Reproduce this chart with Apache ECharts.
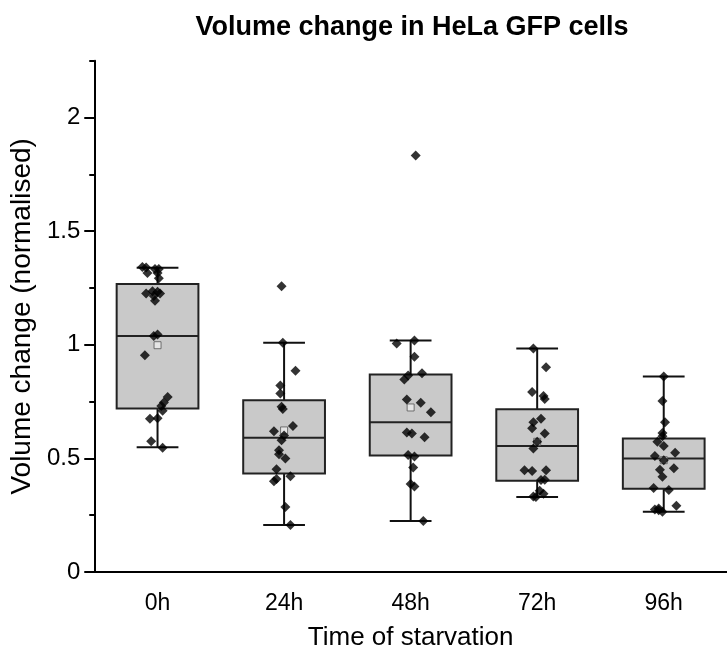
<!DOCTYPE html>
<html>
<head>
<meta charset="utf-8">
<script src="https://cdn.jsdelivr.net/npm/echarts@6/dist/echarts.min.js"></script>
<style>
html,body{margin:0;padding:0;background:#fff;}
#chart{width:727px;height:656px;}
</style>
</head>
<body>
<div id="chart"></div>
<script>
const categories = ['0h', '24h', '48h', '72h', '96h'];
const yTicks = [0, 0.5, 1, 1.5, 2];
const yMinorTicks = [0.25, 0.75, 1.25, 1.75, 2.25];

// box statistics: whisker low, Q1, median, Q3, whisker high
const boxLow    = [0.549, 0.207, 0.224, 0.330, 0.265];
const boxQ1     = [0.720, 0.434, 0.513, 0.402, 0.366];
const boxMedian = [1.038, 0.591, 0.659, 0.554, 0.500];
const boxQ3     = [1.267, 0.756, 0.869, 0.716, 0.587];
const boxHigh   = [1.339, 1.009, 1.019, 0.983, 0.860];
const means     = [0.998, 0.623, 0.724, 0.573, 0.492];

// individual cells (value) and their horizontal jitter (in category units)
const points0h  = [1.342,1.340,1.333,1.333,1.316,1.316,1.293,1.236,1.233,1.226,1.226,1.215,1.194,1.045,1.038,0.954,0.770,0.746,0.731,0.710,0.677,0.674,0.575,0.547];
const jitter0h  = [-0.12,-0.09,-0.02,0.01,-0.08,0.00,0.01,-0.04,0.00,-0.09,0.02,-0.03,-0.02,0.00,-0.03,-0.10,0.08,0.05,0.03,0.04,0.00,-0.06,-0.05,0.04];
const points24h = [1.257,1.009,0.886,0.821,0.785,0.727,0.717,0.643,0.619,0.601,0.580,0.536,0.518,0.499,0.452,0.421,0.409,0.399,0.286,0.207];
const jitter24h = [-0.02,-0.01,0.09,-0.03,-0.03,-0.02,-0.01,0.07,-0.08,0.00,-0.02,-0.04,-0.04,0.01,-0.06,0.05,-0.06,-0.08,0.01,0.05];
const points48h = [1.833,1.019,1.006,0.947,0.875,0.865,0.847,0.759,0.745,0.703,0.614,0.609,0.593,0.515,0.508,0.460,0.387,0.376,0.224];
const jitter48h = [0.04,0.03,-0.11,0.03,0.09,-0.02,-0.05,-0.03,0.08,0.16,-0.03,0.01,0.11,-0.02,0.03,0.02,0.00,0.03,0.10];
const points72h = [0.983,0.901,0.792,0.775,0.761,0.674,0.659,0.633,0.609,0.573,0.544,0.448,0.445,0.448,0.405,0.406,0.358,0.344,0.332,0.330];
const jitter72h = [-0.03,0.07,-0.04,0.05,0.06,0.03,-0.03,-0.04,0.06,0.00,-0.03,-0.10,-0.04,0.07,0.03,0.06,0.02,0.05,-0.03,-0.01];
const points96h = [0.860,0.753,0.659,0.612,0.597,0.573,0.554,0.525,0.510,0.492,0.457,0.450,0.419,0.370,0.361,0.291,0.279,0.275,0.272,0.265];
const jitter96h = [0.00,-0.01,0.01,-0.01,-0.01,-0.05,0.00,0.09,-0.07,0.00,0.08,-0.03,-0.01,-0.08,0.04,0.10,-0.04,-0.07,-0.04,-0.01];

const groupPoints = [points0h, points24h, points48h, points72h, points96h];
const groupJitter = [jitter0h, jitter24h, jitter48h, jitter72h, jitter96h];

const FONT = "'Liberation Sans', Arial, sans-serif";

const boxData = categories.map((c, i) => [i, boxLow[i], boxQ1[i], boxMedian[i], boxQ3[i], boxHigh[i]]);
const meanData = means.map((m, i) => [i, m]);
const scatterData = [];
groupPoints.forEach((arr, i) => arr.forEach((v, j) => scatterData.push([i + groupJitter[i][j], v])));

const chart = echarts.init(document.getElementById('chart'), null, {renderer: 'canvas'});
chart.setOption({
  animation: false,
  backgroundColor: '#fff',
  title: {
    text: 'Volume change in HeLa GFP cells',
    left: 412, top: 14, padding: 0, textAlign: 'center',
    textStyle: {fontFamily: FONT, fontSize: 27, fontWeight: 'bold', color: '#000'}
  },
  grid: {left: 90.7, right: -6.7, top: 60.7, bottom: 76.7, containLabel: false},
  xAxis: [{
    type: 'category', data: categories, boundaryGap: true,
    axisLine: {onZero: false, lineStyle: {color: '#000', width: 2}},
    axisTick: {alignWithLabel: true, length: 10, lineStyle: {color: '#000', width: 2}},
    axisLabel: {fontFamily: FONT, fontSize: 23, color: '#000', margin: 20},
    splitLine: {show: false},
    name: 'Time of starvation', nameLocation: 'middle', nameGap: 53,
    nameTextStyle: {fontFamily: FONT, fontSize: 26, color: '#000'}
  }, {
    type: 'value', min: -0.5, max: 4.5, show: false
  }],
  yAxis: [{
    type: 'value', min: 0, max: 2.25,
    axisLine: {show: true, onZero: false, lineStyle: {color: '#000', width: 2}},
    axisTick: {show: true, length: 10, customValues: yTicks, lineStyle: {color: '#000', width: 2}},
    axisLabel: {customValues: yTicks, fontFamily: FONT, fontSize: 24, color: '#000', margin: 14},
    splitLine: {show: false},
    name: 'Volume change (normalised)', nameLocation: 'middle', nameGap: 41,
    nameTextStyle: {fontFamily: FONT, fontSize: 28, color: '#000'}
  }, {
    type: 'value', min: 0, max: 2.25, position: 'left',
    axisLine: {show: false, onZero: false},
    axisTick: {show: true, length: 5, customValues: yMinorTicks, lineStyle: {color: '#000', width: 2}},
    axisLabel: {show: false},
    splitLine: {show: false}
  }],
  series: [{
    type: 'custom', xAxisIndex: 1, yAxisIndex: 0, z: 2,
    data: boxData,
    encode: {x: 0, y: [1, 2, 3, 4, 5]},
    renderItem: function (params, api) {
      const i = api.value(0);
      const band = api.size([1, 0])[0];
      const half = band * 0.323, cap = band * 0.165;
      const pLow = api.coord([i, api.value(1)]);
      const pQ1 = api.coord([i, api.value(2)]);
      const pMed = api.coord([i, api.value(3)]);
      const pQ3 = api.coord([i, api.value(4)]);
      const pHigh = api.coord([i, api.value(5)]);
      const x = pMed[0];
      const ls = {stroke: '#111', lineWidth: 2};
      return {type: 'group', children: [
        {type: 'line', shape: {x1: x, y1: pQ3[1], x2: x, y2: pHigh[1]}, style: ls},
        {type: 'line', shape: {x1: x, y1: pQ1[1], x2: x, y2: pLow[1]}, style: ls},
        {type: 'line', shape: {x1: x - cap, y1: pHigh[1], x2: x + cap, y2: pHigh[1]}, style: ls},
        {type: 'line', shape: {x1: x - cap, y1: pLow[1], x2: x + cap, y2: pLow[1]}, style: ls},
        {type: 'rect', shape: {x: x - half, y: pQ3[1], width: 2 * half, height: pQ1[1] - pQ3[1]},
          style: {fill: '#c9c9c9', stroke: '#222', lineWidth: 2}},
        {type: 'line', shape: {x1: x - half, y1: pMed[1], x2: x + half, y2: pMed[1]}, style: {stroke: '#222', lineWidth: 2}}
      ]};
    }
  }, {
    type: 'scatter', xAxisIndex: 1, yAxisIndex: 0, z: 3,
    data: meanData, symbol: 'rect', symbolSize: 7,
    itemStyle: {color: '#ececec', borderColor: '#555', borderWidth: 1}
  }, {
    type: 'scatter', xAxisIndex: 1, yAxisIndex: 0, z: 4,
    data: scatterData, symbol: 'diamond', symbolSize: 10,
    itemStyle: {color: '#000'}
  }]
});
</script>
</body>
</html>
